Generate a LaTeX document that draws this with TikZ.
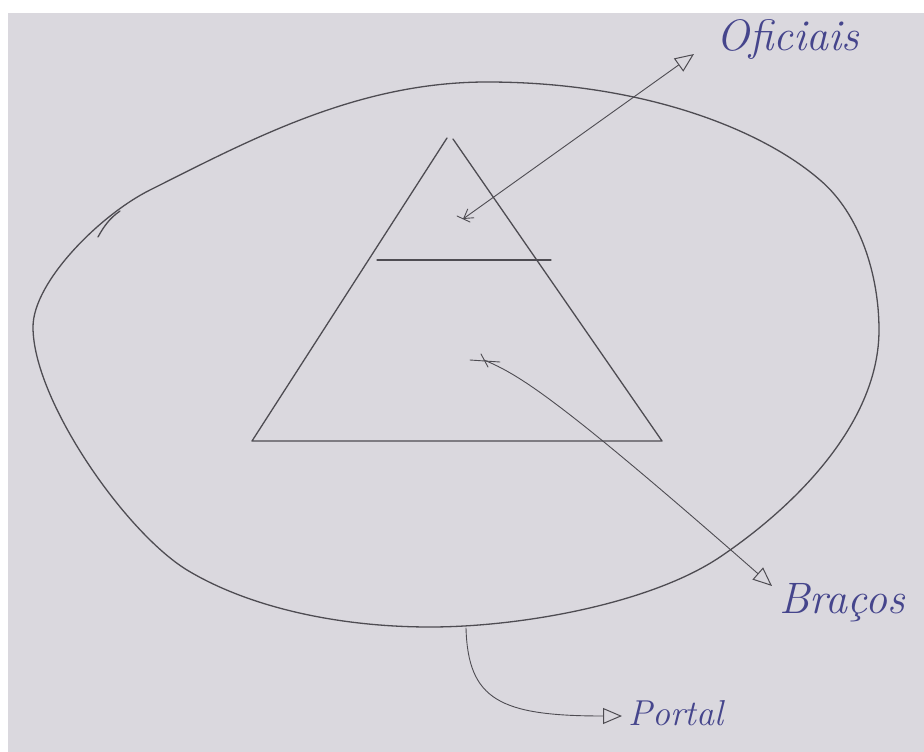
\documentclass[tikz,border=0pt]{standalone}
\usetikzlibrary{arrows.meta}
\definecolor{paper}{HTML}{DAD8DE}
\definecolor{pencil}{HTML}{4E4C52}
\definecolor{ink}{HTML}{45458C}
\tikzset{
  pen/.style={draw=pencil, line width=1.3pt, line cap=round, line join=round},
  thin pen/.style={draw=pencil, line width=0.9pt, line cap=round},
  opentip/.style={-{Triangle[open, length=19pt, width=16pt, line width=1pt]}},
  lbl/.style={text=ink, anchor=west, inner sep=0pt}
}
\begin{document}
\begin{tikzpicture}[x=1pt, y=-1pt]
\useasboundingbox (0,0) rectangle (924,752);
\fill[white] (0,0) rectangle (924,752);
\fill[paper] (8,13) rectangle (924,752);

% outer closed blob
\coordinate (L) at (33,327);
\coordinate (TL) at (150,190);
\coordinate (T) at (487,82);
\coordinate (TR) at (820,180);
\coordinate (R) at (879,330);
\coordinate (BR) at (720,557);
\coordinate (B) at (430,627);
\coordinate (BL) at (187,570);
\draw[pen] (L) .. controls (33,282) and (100,215) .. (TL)
  .. controls (250,140) and (357,82) .. (T)
  .. controls (640,82) and (760,128) .. (TR)
  .. controls (860,214) and (879,275) .. (R)
  .. controls (879,420) and (800,503) .. (BR)
  .. controls (650,604) and (520,627) .. (B)
  .. controls (340,627) and (250,608) .. (BL)
  .. controls (125,532) and (33,400) .. (L) -- cycle;
% starting hook of the stroke
\coordinate (hk) at (98,237);
\draw[pen] (hk) .. controls (104,226) and (110,218) .. (120,211);

% triangle
\coordinate (apexL) at (447,138);
\coordinate (apexR) at (453,139);
\coordinate (baseL) at (252,441);
\coordinate (baseR) at (662,441);
\draw[pen] (apexL) -- (baseL) -- (baseR) -- (apexR);
\coordinate (midL) at (377,260);
\coordinate (midR) at (551,260);
\draw[pen] (midL) -- (midR);

% stars
\coordinate (s1) at (463,219);
\coordinate (s2) at (484,360);
\draw[thin pen] (457,216) -- (470,222);
\draw[thin pen] (470,360) -- (500,362);
\draw[thin pen] (481,354) -- (488,367);

% labels
\node[lbl, font=\fontsize{44}{46}\selectfont\itshape] (of) at (716,40) {Oficiais};
\node[lbl, font=\fontsize{44}{46}\selectfont\itshape] (br) at (779,603) {Braços};
\node[lbl, font=\fontsize{36}{38}\selectfont\itshape] (po) at (628,713) {Portal};

\coordinate (ofTip) at (694,54);
\coordinate (brTip) at (772,586);
\coordinate (poTip) at (622,716);
\coordinate (poStart) at (466,628);

% arrows
\draw[thin pen, {Straight Barb[length=9pt, width=11pt]}-{Triangle[open, length=19pt, width=16pt, line width=1pt]}] (s1) -- (ofTip);
\draw[thin pen, opentip] (s2) .. controls (520,375) and (560,400) .. (brTip);
\draw[thin pen, opentip] (poStart) .. controls (468,700) and (500,716) .. (poTip);
\end{tikzpicture}
\end{document}
